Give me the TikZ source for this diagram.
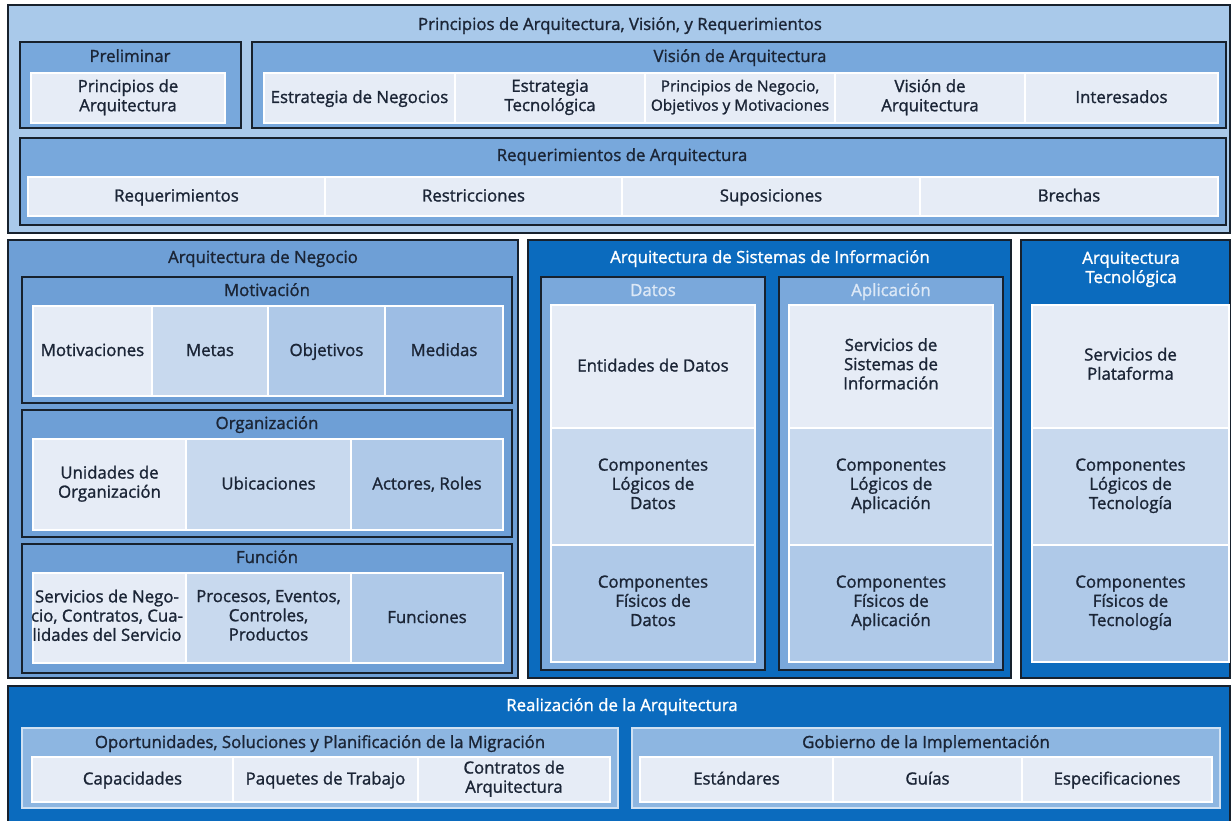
\documentclass[tikz,border=0pt]{standalone}
\usepackage{fontspec}
\setmainfont{Open Sans}[RawFeature={embolden=1.3}]
\definecolor{topbg}{HTML}{A9C9EA}
\definecolor{midbg}{HTML}{78A8DC}
\definecolor{cellL}{HTML}{E6ECF6}
\definecolor{negbg}{HTML}{6E9FD6}
\definecolor{cB}{HTML}{C8D9EE}
\definecolor{cC}{HTML}{AFC9E8}
\definecolor{cD}{HTML}{9DBDE4}
\definecolor{strong}{HTML}{0B6BBE}
\definecolor{datbg}{HTML}{7AA8DB}
\definecolor{realbg}{HTML}{8DB6E1}
\definecolor{realln}{HTML}{CFE1F3}
\definecolor{txt}{HTML}{1B2536}
\definecolor{dk}{HTML}{17212D}
\definecolor{lighttxt}{HTML}{DCE8F6}
\newcommand\bx[7]{\node[#6, minimum width={(#4-#2)*1pt}, minimum height={(#5-#3)*1pt}] (#1) at ({(#2+#4)/2},{(#3+#5)/2}) {#7};}
\newcommand\mystrut{\rule[-5.5pt]{0pt}{21pt}}
\tikzset{
  every node/.style={inner sep=0pt, outer sep=0pt, font=\fontsize{16.8}{19.2}\selectfont, text=txt, align=center,
    execute at begin node=\mystrut, execute at end node=\mystrut},
  outerbox/.style={draw=dk, line width=2.6pt, rectangle},
  cellbox/.style={draw=white, line width=1.2pt, rectangle},
  realbox/.style={draw=realln, line width=2pt, fill=realbg, rectangle},
  wt/.style={text=white},
}
\begin{document}
\begin{tikzpicture}[x=1pt,y=-1pt]
\useasboundingbox (0,0) rectangle (1232,821);
\fill[white] (0,0) rectangle (1232,821);
% ---- top section
\bx{top}{8}{5}{1230}{233}{outerbox, fill=topbg}{}
\node (toptitle) at (620,25) {Principios de Arquitectura, Visión, y Requerimientos};
\bx{prel}{20}{42}{241}{128}{outerbox, fill=midbg}{}
\node (preltitle) at (130,57) {Preliminar};
\bx{princ}{31}{73}{225}{123}{cellbox, fill=cellL}{Principios de\\Arquitectura}
\bx{vision}{252}{42}{1226}{128}{outerbox, fill=midbg}{}
\node (vistitle) at (740,57) {Visión de Arquitectura};
\bx{v1}{264}{73}{455}{123}{cellbox, fill=cellL}{Estrategia de Negocios}
\bx{v2}{455}{73}{645}{123}{cellbox, fill=cellL}{Estrategia\\Tecnológica}
\bx{v3}{645}{73}{835}{123}{cellbox, fill=cellL, font=\fontsize{15.4}{19.2}\selectfont}{Principios de Negocio,\\Objetivos y Motivaciones}
\bx{v4}{835}{73}{1025}{123}{cellbox, fill=cellL}{Visión de\\Arquitectura}
\bx{v5}{1025}{73}{1218}{123}{cellbox, fill=cellL}{Interesados}
\bx{req}{20}{138}{1226}{225}{outerbox, fill=midbg}{}
\node (reqtitle) at (622,156) {Requerimientos de Arquitectura};
\bx{r1}{28}{177}{325}{216}{cellbox, fill=cellL}{Requerimientos}
\bx{r2}{325}{177}{622}{216}{cellbox, fill=cellL}{Restricciones}
\bx{r3}{622}{177}{920}{216}{cellbox, fill=cellL}{Suposiciones}
\bx{r4}{920}{177}{1218}{216}{cellbox, fill=cellL}{Brechas}
% ---- business
\bx{neg}{8}{240}{518}{678}{outerbox, fill=negbg}{}
\node (negtitle) at (263,258) {Arquitectura de Negocio};
\bx{mot}{22}{277}{512}{403}{outerbox, fill=negbg}{}
\node (mottitle) at (267,291) {Motivación};
\bx{m1}{33}{306}{152}{396}{cellbox, fill=cellL}{Motivaciones}
\bx{m2}{152}{306}{268}{396}{cellbox, fill=cB}{Metas}
\bx{m3}{268}{306}{385}{396}{cellbox, fill=cC}{Objetivos}
\bx{m4}{385}{306}{503}{396}{cellbox, fill=cD}{Medidas}
\bx{org}{22}{410}{512}{537}{outerbox, fill=negbg}{}
\node (orgtitle) at (267,424) {Organización};
\bx{o1}{33}{439}{186}{530}{cellbox, fill=cellL}{Unidades de\\Organización}
\bx{o2}{186}{439}{351}{530}{cellbox, fill=cB}{Ubicaciones}
\bx{o3}{351}{439}{503}{530}{cellbox, fill=cC}{Actores, Roles}
\bx{fun}{22}{544}{512}{673}{outerbox, fill=negbg}{}
\node (funtitle) at (267,558) {Función};
\bx{f1}{33}{573}{186}{663}{cellbox, fill=cellL}{}
\bx{f2}{186}{573}{351}{663}{cellbox, fill=cB}{Procesos, Eventos,\\Controles,\\Productos}
\bx{f3}{351}{573}{503}{663}{cellbox, fill=cC}{Funciones}
\begin{scope}
\clip (24,573) rectangle (186,663);
\node (f1t) at (107,618) {Servicios de Nego-\\cio, Contratos, Cua-\\lidades del Servicio};
\end{scope}
% ---- information systems
\bx{asi}{528}{240}{1011}{678}{outerbox, fill=strong}{}
\node[wt] (asititle) at (770,258) {Arquitectura de Sistemas de Información};
\bx{dat}{541}{277}{765}{670}{outerbox, fill=datbg}{}
\node[text=lighttxt] (dattitle) at (653,291) {Datos};
\bx{d1}{551}{305}{755}{428}{cellbox, fill=cellL}{Entidades de Datos}
\bx{d2}{551}{428}{755}{545}{cellbox, fill=cB}{Componentes\\Lógicos de\\Datos}
\bx{d3}{551}{545}{755}{662}{cellbox, fill=cC}{Componentes\\Físicos de\\Datos}
\bx{app}{779}{277}{1003}{670}{outerbox, fill=datbg}{}
\node[text=lighttxt] (apptitle) at (891,291) {Aplicación};
\bx{a1}{789}{305}{993}{428}{cellbox, fill=cellL}{Servicios de\\Sistemas de\\Información}
\bx{a2}{789}{428}{993}{545}{cellbox, fill=cB}{Componentes\\Lógicos de\\Aplicación}
\bx{a3}{789}{545}{993}{662}{cellbox, fill=cC}{Componentes\\Físicos de\\Aplicación}
% ---- technology
\bx{tec}{1021}{240}{1230}{678}{outerbox, fill=strong}{}
\node[wt] (tectitle) at (1131,270) {Arquitectura\\Tecnológica};
\bx{t1}{1032}{305}{1229}{428}{cellbox, fill=cellL}{Servicios de\\Plataforma}
\bx{t2}{1032}{428}{1229}{545}{cellbox, fill=cB}{Componentes\\Lógicos de\\Tecnología}
\bx{t3}{1032}{545}{1229}{662}{cellbox, fill=cC}{Componentes\\Físicos de\\Tecnología}
% ---- realization
\bx{real}{8}{686}{1230}{825}{outerbox, fill=strong}{}
\node[wt] (realtitle) at (622,706) {Realización de la Arquitectura};
\bx{opp}{22}{728}{618}{808}{realbox}{}
\node (opptitle) at (320,743) {Oportunidades, Soluciones y Planificación de la Migración};
\bx{p1}{32}{757}{233}{802}{cellbox, fill=cellL}{Capacidades}
\bx{p2}{233}{757}{418}{802}{cellbox, fill=cellL}{Paquetes de Trabajo}
\bx{p3}{418}{757}{610}{802}{cellbox, fill=cellL}{Contratos de\\Arquitectura}
\bx{gob}{632}{728}{1220}{808}{realbox}{}
\node (gobtitle) at (926,743) {Gobierno de la Implementación};
\bx{g1}{640}{757}{833}{802}{cellbox, fill=cellL}{Estándares}
\bx{g2}{833}{757}{1022}{802}{cellbox, fill=cellL}{Guías}
\bx{g3}{1022}{757}{1212}{802}{cellbox, fill=cellL}{Especificaciones}
\end{tikzpicture}
\end{document}
